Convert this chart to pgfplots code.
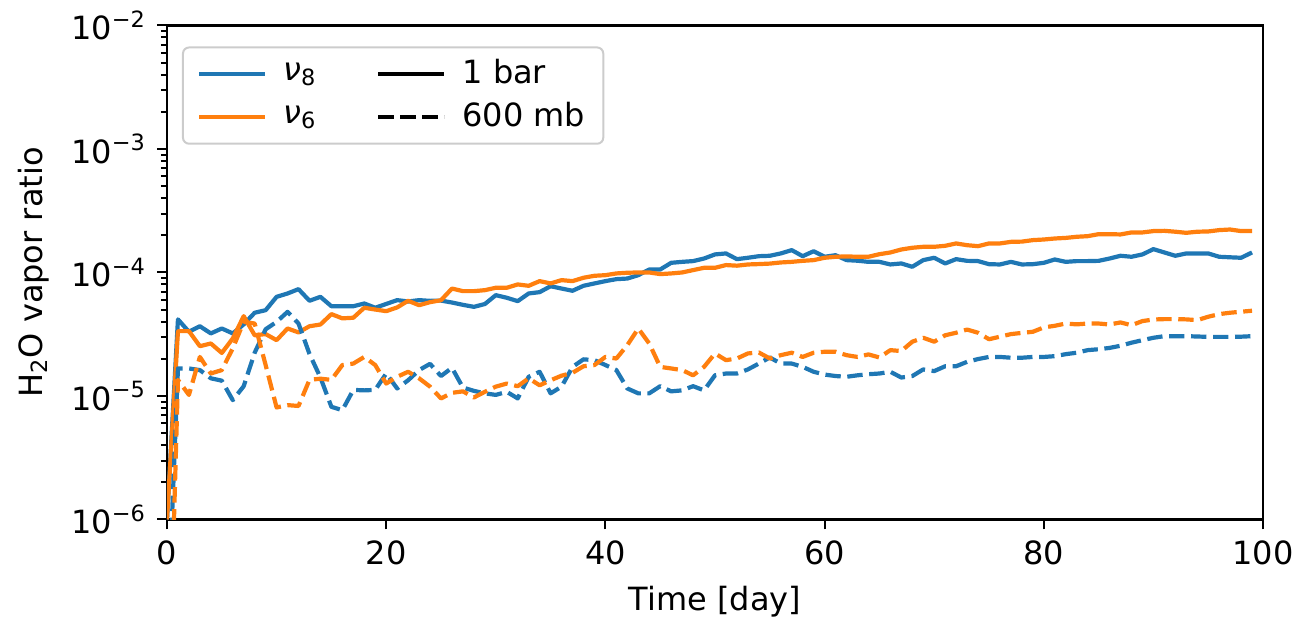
\documentclass[border=0pt]{standalone}
\usepackage{pgfplots}
\pgfplotsset{compat=1.18}
\usepackage{fontspec}
\setmainfont{DejaVu Sans}
\definecolor{mblue}{HTML}{1F77B4}
\definecolor{morange}{HTML}{FF7F0E}
\begin{document}
\fontsize{16}{19}\selectfont
\begin{tikzpicture}
\begin{axis}[
  scale only axis, width=548pt, height=247pt,
  ymode=log, xmin=0, xmax=100, ymin=1e-6, ymax=1e-2,
  xtick={0,20,40,60,80,100},
  ytick={1e-6,1e-5,1e-4,1e-3,1e-2},
  yticklabels={10\textsuperscript{−6},10\textsuperscript{−5},10\textsuperscript{−4},10\textsuperscript{−3},10\textsuperscript{−2}},
  xticklabels={0,20,40,60,80,100},
  tick align=outside, xtick pos=bottom, ytick pos=left,
  major tick length=5pt, minor tick length=3pt,
  every tick/.style={black, line width=1pt},
  axis line style={line width=1.1pt},
  ticklabel style={font=\fontsize{16}{19}\selectfont},
  label style={font=\fontsize{16}{19}\selectfont},
  xlabel={Time [day]}, ylabel={H\textsubscript{2}O vapor ratio},
  legend columns=2,
  legend cell align=left,
  legend style={at={(0,1)}, anchor=north west, xshift=7.5pt, yshift=-10.5pt,
    draw=black!20, line width=1pt, rounded corners=3pt,
    font=\fontsize{16}{19}\selectfont, inner xsep=7pt, inner ysep=4pt,
    /tikz/every odd column/.append style={column sep=6pt},
    /tikz/every even column/.append style={column sep=28pt},
    row sep=3pt},
  legend image code/.code={\draw[#1, line width=2.1pt] (0pt,0pt) -- (33pt,0pt);},
  every axis plot/.append style={line width=2.1pt, line join=round},
]
\addlegendimage{mblue, solid}
\addlegendentry{{\itshape ν}\textsubscript{8}}
\addlegendimage{black, solid}
\addlegendentry{1 bar}
\addlegendimage{morange, solid}
\addlegendentry{{\itshape ν}\textsubscript{6}}
\addlegendimage{black, dash pattern=on 7.7pt off 3.3pt}
\addlegendentry{600 mb}

% nu8, 1 bar
\addplot[mblue, forget plot] coordinates {
(0,1.0e-6)(1,4.17e-5)(2,3.31e-5)(3,3.67e-5)(4,3.21e-5)(5,3.52e-5)(6,3.21e-5)(7,3.80e-5)(8,4.72e-5)(9,4.95e-5)
(10,6.35e-5)(11,6.76e-5)(12,7.33e-5)(13,5.90e-5)(14,6.35e-5)(15,5.33e-5)(16,5.33e-5)(17,5.33e-5)(18,5.61e-5)(19,5.18e-5)
(20,5.56e-5)(21,5.97e-5)(22,5.82e-5)(23,5.97e-5)(24,5.89e-5)(25,5.92e-5)(26,5.71e-5)(27,5.47e-5)(28,5.27e-5)(29,5.55e-5)
(30,6.55e-5)(31,6.24e-5)(32,5.86e-5)(33,6.76e-5)(34,6.93e-5)(35,7.74e-5)(36,7.41e-5)(37,7.11e-5)(38,7.80e-5)(39,8.15e-5)
(40,8.51e-5)(41,8.83e-5)(42,8.93e-5)(43,9.51e-5)(44,1.057e-4)(45,1.057e-4)(46,1.197e-4)(47,1.219e-4)(48,1.236e-4)(49,1.297e-4)
(50,1.400e-4)(51,1.426e-4)(52,1.282e-4)(53,1.315e-4)(54,1.355e-4)(55,1.365e-4)(56,1.426e-4)(57,1.517e-4)(58,1.355e-4)(59,1.486e-4)
(60,1.340e-4)(61,1.380e-4)(62,1.259e-4)(63,1.245e-4)(64,1.219e-4)(65,1.219e-4)(66,1.161e-4)(67,1.183e-4)(68,1.112e-4)(69,1.259e-4)
(70,1.315e-4)(71,1.183e-4)(72,1.282e-4)(73,1.242e-4)(74,1.236e-4)(75,1.167e-4)(76,1.161e-4)(77,1.219e-4)(78,1.161e-4)(79,1.167e-4)
(80,1.197e-4)(81,1.274e-4)(82,1.219e-4)(83,1.236e-4)(84,1.236e-4)(85,1.242e-4)(86,1.297e-4)(87,1.365e-4)(88,1.340e-4)(89,1.400e-4)
(90,1.545e-4)(91,1.452e-4)(92,1.365e-4)(93,1.426e-4)(94,1.426e-4)(95,1.426e-4)(96,1.340e-4)(97,1.327e-4)(98,1.315e-4)(99,1.452e-4)
};
% nu6, 1 bar
\addplot[morange, forget plot] coordinates {
(0,1.0e-6)(1,3.35e-5)(2,3.35e-5)(3,2.53e-5)(4,2.66e-5)(5,2.23e-5)(6,2.92e-5)(7,4.43e-5)(8,3.10e-5)(9,3.17e-5)
(10,2.83e-5)(11,3.52e-5)(12,3.27e-5)(13,3.67e-5)(14,3.79e-5)(15,4.60e-5)(16,4.25e-5)(17,4.30e-5)(18,5.18e-5)(19,5.01e-5)
(20,4.86e-5)(21,5.21e-5)(22,5.90e-5)(23,5.43e-5)(24,5.75e-5)(25,5.96e-5)(26,7.41e-5)(27,7.06e-5)(28,7.06e-5)(29,7.19e-5)
(30,7.52e-5)(31,7.52e-5)(32,8.00e-5)(33,7.80e-5)(34,8.51e-5)(35,8.15e-5)(36,8.67e-5)(37,8.51e-5)(38,9.06e-5)(39,9.40e-5)
(40,9.51e-5)(41,9.82e-5)(42,9.95e-5)(43,1.0e-4)(44,1.0e-4)(45,9.70e-5)(46,9.82e-5)(47,1.0e-4)(48,1.045e-4)(49,1.091e-4)
(50,1.091e-4)(51,1.148e-4)(52,1.135e-4)(53,1.161e-4)(54,1.169e-4)(55,1.180e-4)(56,1.205e-4)(57,1.219e-4)(58,1.242e-4)(59,1.259e-4)
(60,1.315e-4)(61,1.340e-4)(62,1.349e-4)(63,1.340e-4)(64,1.340e-4)(65,1.406e-4)(66,1.452e-4)(67,1.535e-4)(68,1.585e-4)(69,1.614e-4)
(70,1.614e-4)(71,1.644e-4)(72,1.718e-4)(73,1.663e-4)(74,1.633e-4)(75,1.718e-4)(76,1.718e-4)(77,1.770e-4)(78,1.778e-4)(79,1.828e-4)
(80,1.849e-4)(81,1.884e-4)(82,1.905e-4)(83,1.945e-4)(84,1.968e-4)(85,2.042e-4)(86,2.042e-4)(87,2.032e-4)(88,2.109e-4)(89,2.109e-4)
(90,2.163e-4)(91,2.173e-4)(92,2.138e-4)(93,2.094e-4)(94,2.138e-4)(95,2.148e-4)(96,2.203e-4)(97,2.228e-4)(98,2.163e-4)(99,2.163e-4)
};
% nu8, 600 mb
\addplot[mblue, dash pattern=on 7.7pt off 3.3pt, forget plot] coordinates {
(0,1.0e-7)(1,1.67e-5)(2,1.67e-5)(3,1.62e-5)(4,1.39e-5)(5,1.33e-5)(6,9.25e-6)(7,1.20e-5)(8,2.24e-5)(9,3.47e-5)
(10,3.98e-5)(11,4.80e-5)(12,3.86e-5)(13,2.19e-5)(14,1.41e-5)(15,8.17e-6)(16,7.67e-6)(17,1.12e-5)(18,1.11e-5)(19,1.12e-5)
(20,1.52e-5)(21,1.15e-5)(22,1.34e-5)(23,1.62e-5)(24,1.82e-5)(25,1.45e-5)(26,1.69e-5)(27,1.17e-5)(28,1.10e-5)(29,1.05e-5)
(30,1.02e-5)(31,1.08e-5)(32,9.55e-6)(33,1.43e-5)(34,1.57e-5)(35,1.05e-5)(36,1.19e-5)(37,1.72e-5)(38,1.98e-5)(39,1.95e-5)
(40,1.78e-5)(41,1.62e-5)(42,1.15e-5)(43,1.05e-5)(44,1.05e-5)(45,1.20e-5)(46,1.09e-5)(47,1.11e-5)(48,1.20e-5)(49,1.11e-5)
(50,1.47e-5)(51,1.52e-5)(52,1.52e-5)(53,1.64e-5)(54,1.83e-5)(55,2.05e-5)(56,1.83e-5)(57,1.83e-5)(58,1.72e-5)(59,1.57e-5)
(60,1.49e-5)(61,1.45e-5)(62,1.43e-5)(63,1.47e-5)(64,1.50e-5)(65,1.52e-5)(66,1.57e-5)(67,1.41e-5)(68,1.45e-5)(69,1.64e-5)
(70,1.59e-5)(71,1.74e-5)(72,1.74e-5)(73,1.89e-5)(74,1.99e-5)(75,2.07e-5)(76,2.07e-5)(77,2.04e-5)(78,2.04e-5)(79,2.07e-5)
(80,2.07e-5)(81,2.10e-5)(82,2.18e-5)(83,2.24e-5)(84,2.35e-5)(85,2.39e-5)(86,2.45e-5)(87,2.55e-5)(88,2.70e-5)(89,2.83e-5)
(90,2.96e-5)(91,3.05e-5)(92,3.05e-5)(93,3.05e-5)(94,3.03e-5)(95,3.01e-5)(96,3.01e-5)(97,3.01e-5)(98,3.02e-5)(99,3.05e-5)
};
% nu6, 600 mb
\addplot[morange, dash pattern=on 7.7pt off 3.3pt, forget plot] coordinates {
(0,1.0e-8)(1,1.35e-5)(2,1.02e-5)(3,2.07e-5)(4,1.52e-5)(5,1.62e-5)(6,2.43e-5)(7,3.98e-5)(8,3.86e-5)(9,1.78e-5)
(10,8.07e-6)(11,8.43e-6)(12,8.30e-6)(13,1.35e-5)(14,1.38e-5)(15,1.35e-5)(16,1.78e-5)(17,1.83e-5)(18,2.07e-5)(19,1.78e-5)
(20,1.26e-5)(21,1.43e-5)(22,1.57e-5)(23,1.39e-5)(24,1.19e-5)(25,9.55e-6)(26,1.06e-5)(27,1.09e-5)(28,9.72e-6)(29,1.08e-5)
(30,1.19e-5)(31,1.26e-5)(32,1.20e-5)(33,1.39e-5)(34,1.22e-5)(35,1.34e-5)(36,1.46e-5)(37,1.54e-5)(38,1.74e-5)(39,1.78e-5)
(40,2.07e-5)(41,2.01e-5)(42,2.58e-5)(43,3.52e-5)(44,2.66e-5)(45,1.72e-5)(46,1.67e-5)(47,1.62e-5)(48,1.47e-5)(49,1.72e-5)
(50,2.21e-5)(51,1.95e-5)(52,2.01e-5)(53,2.21e-5)(54,2.25e-5)(55,2.01e-5)(56,2.14e-5)(57,2.24e-5)(58,2.07e-5)(59,2.24e-5)
(60,2.28e-5)(61,2.28e-5)(62,2.14e-5)(63,2.07e-5)(64,2.17e-5)(65,2.05e-5)(66,2.35e-5)(67,2.31e-5)(68,2.75e-5)(69,2.96e-5)
(70,2.75e-5)(71,3.10e-5)(72,3.25e-5)(73,3.45e-5)(74,3.25e-5)(75,2.88e-5)(76,3.02e-5)(77,3.17e-5)(78,3.24e-5)(79,3.31e-5)
(80,3.59e-5)(81,3.70e-5)(82,3.86e-5)(83,3.80e-5)(84,3.86e-5)(85,3.86e-5)(86,3.79e-5)(87,3.94e-5)(88,3.74e-5)(89,4.04e-5)
(90,4.16e-5)(91,4.19e-5)(92,4.19e-5)(93,4.17e-5)(94,4.11e-5)(95,4.38e-5)(96,4.60e-5)(97,4.72e-5)(98,4.81e-5)(99,4.90e-5)
};
\end{axis}
\path (current axis.south west) ++(-83.5pt,-52pt) coordinate (bbA);
\path (current axis.south west) ++(572pt,258pt) coordinate (bbB);
\path (bbA) rectangle (bbB);
\end{tikzpicture}
\end{document}
